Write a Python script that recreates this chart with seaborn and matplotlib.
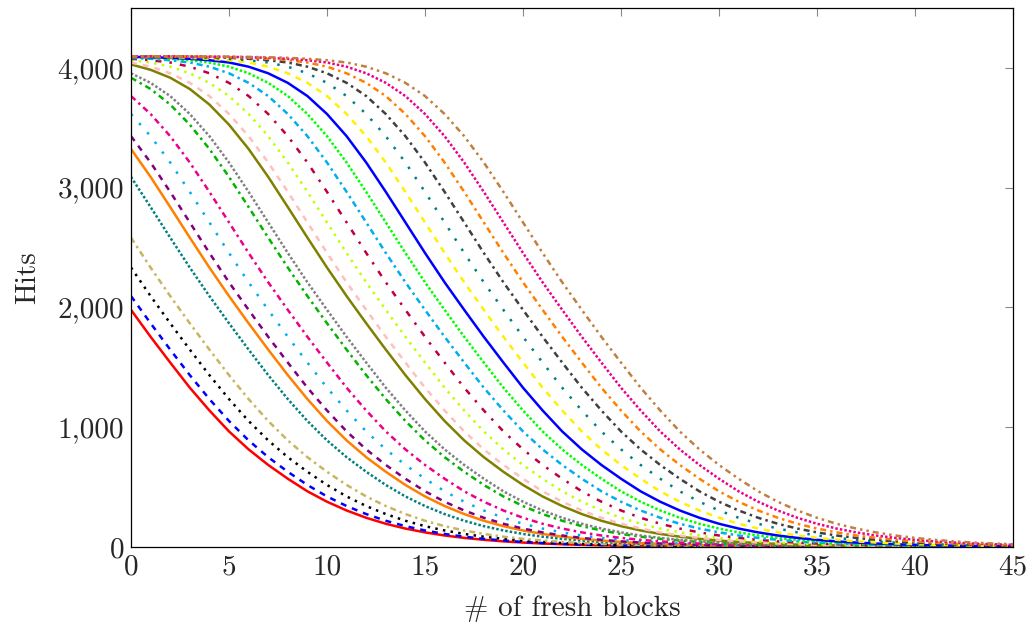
import matplotlib
matplotlib.use("Agg")
import matplotlib.pyplot as plt
import seaborn as sns
import pandas as pd
from matplotlib.ticker import FuncFormatter

# ---------------- data ----------------
fresh_blocks = list(range(0, 46))

hits_red = [1980,1755,1540,1330,1140,965,815,685,570,465,
            378,305,244,194,154,122,96,76,60,47,
            37,29,23,18,14,11,9,7,5,4,
            3,2,2,1,1,1,1,0,0,0,
            0,0,0,0,0,0]
hits_blue_dashed = [2095,1868,1648,1435,1235,1052,890,750,628,518,
                    422,342,275,219,174,138,109,86,68,54,
                    42,33,26,20,16,12,10,8,6,4,
                    3,2,2,1,1,1,1,0,0,0,
                    0,0,0,0,0,0]
hits_black = [2333,2095,1868,1648,1435,1235,1052,890,750,628,
              518,422,342,275,219,174,138,109,86,68,
              54,42,33,26,20,16,12,10,8,6,
              4,3,2,2,1,1,1,1,0,0,
              0,0,0,0,0,0]
hits_khaki = [2583,2333,2095,1868,1648,1435,1235,1052,890,750,
              628,518,422,342,275,219,174,138,109,86,
              68,54,42,33,26,20,16,12,10,8,
              6,4,3,2,2,1,1,1,1,0,
              0,0,0,0,0,0]
hits_teal_dense = [3090,2838,2583,2333,2095,1868,1648,1435,1235,1052,
                   890,750,628,518,422,342,275,219,174,138,
                   109,86,68,54,42,33,26,20,16,12,
                   10,8,6,4,3,2,2,1,1,1,
                   1,0,0,0,0,0]
hits_orange = [3323,3090,2838,2583,2333,2095,1868,1648,1435,1235,
               1052,890,750,628,518,422,342,275,219,174,
               138,109,86,68,54,42,33,26,20,16,
               12,10,8,6,4,3,2,2,1,1,
               1,1,0,0,0,0]
hits_violet = [3430,3210,2965,2710,2455,2210,1980,1755,1540,1330,
               1140,965,815,685,570,465,378,305,244,194,
               154,122,96,76,60,47,37,29,23,18,
               14,11,9,7,5,4,3,2,2,1,
               1,1,1,0,0,0]
hits_cyan_loose = [3615,3430,3210,2965,2710,2455,2210,1980,1755,1540,
                   1330,1140,965,815,685,570,465,378,305,244,
                   194,154,122,96,76,60,47,37,29,23,
                   18,14,11,9,7,5,4,3,2,2,
                   1,1,1,1,0,0]
hits_magenta_dd = [3765,3615,3430,3210,2965,2710,2455,2210,1980,1755,
                   1540,1330,1140,965,815,685,570,465,378,305,
                   244,194,154,122,96,76,60,47,37,29,
                   23,18,14,11,9,7,5,4,3,2,
                   2,1,1,1,1,0]
hits_green_dd = [3918,3824,3694,3526,3323,3090,2838,2583,2333,2095,
                 1868,1648,1435,1235,1052,890,750,628,518,422,
                 342,275,219,174,138,109,86,68,54,42,
                 33,26,20,16,12,10,8,6,4,3,
                 2,2,1,1,1,1]
hits_gray = [3955,3875,3765,3615,3430,3210,2965,2710,2455,2210,
             1980,1755,1540,1330,1140,965,815,685,570,465,
             378,305,244,194,154,122,96,76,60,47,
             37,29,23,18,14,11,9,7,5,4,
             3,2,2,1,1,1]
hits_olive = [4029,3984,3918,3824,3694,3526,3323,3090,2838,2583,
              2333,2095,1868,1648,1435,1235,1052,890,750,628,
              518,422,342,275,219,174,138,109,86,68,
              54,42,33,26,20,16,12,10,8,6,
              4,3,2,2,1,1]
hits_pink = [4045,4010,3955,3875,3765,3615,3430,3210,2965,2710,
             2455,2210,1980,1755,1540,1330,1140,965,815,685,
             570,465,378,305,244,194,154,122,96,76,
             60,47,37,29,23,18,14,11,9,7,
             5,4,3,2,2,1]
hits_lime = [4064,4045,4010,3955,3875,3765,3615,3430,3210,2965,
             2710,2455,2210,1980,1755,1540,1330,1140,965,815,
             685,570,465,378,305,244,194,154,122,96,
             76,60,47,37,29,23,18,14,11,9,
             7,5,4,3,2,2]
hits_purple = [4076,4064,4045,4010,3955,3875,3765,3615,3430,3210,
               2965,2710,2455,2210,1980,1755,1540,1330,1140,965,
               815,685,570,465,378,305,244,194,154,122,
               96,76,60,47,37,29,23,18,14,11,
               9,7,5,4,3,2]
hits_cyan_dd = [4084,4076,4064,4045,4010,3955,3875,3765,3615,3430,
                3210,2965,2710,2455,2210,1980,1755,1540,1330,1140,
                965,815,685,570,465,378,305,244,194,154,
                122,96,76,60,47,37,29,23,18,14,
                11,9,7,5,4,3]
hits_green_dense = [4089,4084,4076,4064,4045,4010,3955,3875,3765,3615,
                    3430,3210,2965,2710,2455,2210,1980,1755,1540,1330,
                    1140,965,815,685,570,465,378,305,244,194,
                    154,122,96,76,60,47,37,29,23,18,
                    14,11,9,7,5,4]
hits_blue = [4092,4089,4084,4076,4064,4045,4010,3955,3875,3765,
             3615,3430,3210,2965,2710,2455,2210,1980,1755,1540,
             1330,1140,965,815,685,570,465,378,305,244,
             194,154,122,96,76,60,47,37,29,23,
             18,14,11,9,7,5]
hits_yellow = [4094,4092,4089,4084,4076,4064,4045,4010,3955,3875,
               3765,3615,3430,3210,2965,2710,2455,2210,1980,1755,
               1540,1330,1140,965,815,685,570,465,378,305,
               244,194,154,122,96,76,60,47,37,29,
               23,18,14,11,9,7]
hits_teal_loose = [4095,4094,4092,4089,4084,4076,4064,4045,4010,3955,
                   3875,3765,3615,3430,3210,2965,2710,2455,2210,1980,
                   1755,1540,1330,1140,965,815,685,570,465,378,
                   305,244,194,154,122,96,76,60,47,37,
                   29,23,18,14,11,9]
hits_darkgray = [4096,4095,4094,4092,4089,4084,4076,4064,4045,4010,
                 3955,3875,3765,3615,3430,3210,2965,2710,2455,2210,
                 1980,1755,1540,1330,1140,965,815,685,570,465,
                 378,305,244,194,154,122,96,76,60,47,
                 37,29,23,18,14,11]
hits_orange_dd = [4096,4096,4095,4094,4092,4089,4084,4076,4064,4045,
                  4010,3955,3875,3765,3615,3430,3210,2965,2710,2455,
                  2210,1980,1755,1540,1330,1140,965,815,685,570,
                  465,378,305,244,194,154,122,96,76,60,
                  47,37,29,23,18,14]
hits_magenta_dense = [4096,4096,4096,4095,4094,4092,4089,4084,4076,4064,
                      4045,4010,3955,3875,3765,3615,3430,3210,2965,2710,
                      2455,2210,1980,1755,1540,1330,1140,965,815,685,
                      570,465,378,305,244,194,154,122,96,76,
                      60,47,37,29,23,18]
hits_brown = [4096,4096,4096,4096,4095,4094,4092,4089,4084,4076,
              4064,4045,4010,3955,3875,3765,3615,3430,3210,2965,
              2710,2455,2210,1980,1755,1540,1330,1140,965,815,
              685,570,465,378,305,244,194,154,122,96,
              76,60,47,37,29,23]

x_ticks = [0, 5, 10, 15, 20, 25, 30, 35, 40, 45]
y_ticks = [0, 1000, 2000, 3000, 4000]
x_label = "# of fresh blocks"
y_label = "Hits"

# ---------------- styles ----------------
LW = 1.8
SOLID = "-"
DASHED = (0, (4.3, 4.3))
DOTTED = (0, (LW, 3.8))
DENSE_DOT = (0, (LW, 1.5))
LOOSE_DOT = (0, (LW, 7.0))
DASHDOT = (0, (4.3, 2.9, LW, 2.9))
LOOSE_DASHDOT = (0, (4.3, 5.8, LW, 5.8))
DASHDOTDOT = (0, (4.3, 2.9, LW, 2.9, LW, 2.9))

series = [
    (hits_red, "#FF0000", SOLID),
    (hits_blue_dashed, "#0000FF", DASHED),
    (hits_black, "#000000", DOTTED),
    (hits_khaki, "#C8B560", DASHDOT),
    (hits_teal_dense, "#008080", DENSE_DOT),
    (hits_orange, "#FF8000", SOLID),
    (hits_violet, "#800080", DASHED),
    (hits_cyan_loose, "#00AEEF", LOOSE_DOT),
    (hits_magenta_dd, "#EC008C", DASHDOT),
    (hits_green_dd, "#00B400", DASHDOT),
    (hits_gray, "#808080", DENSE_DOT),
    (hits_olive, "#808000", SOLID),
    (hits_pink, "#FFBFBF", DASHED),
    (hits_lime, "#BFFF00", DOTTED),
    (hits_purple, "#BF0040", LOOSE_DASHDOT),
    (hits_cyan_dd, "#00AEEF", DASHDOT),
    (hits_green_dense, "#00FF00", DENSE_DOT),
    (hits_blue, "#0000FF", SOLID),
    (hits_yellow, "#FFF000", DASHED),
    (hits_teal_loose, "#008080", LOOSE_DOT),
    (hits_darkgray, "#404040", DASHDOT),
    (hits_orange_dd, "#FF8000", DASHDOT),
    (hits_magenta_dense, "#EC008C", DENSE_DOT),
    (hits_brown, "#BF8040", DASHDOTDOT),
]

# ---------------- figure ----------------
sns.set_style("white")
plt.rcParams["font.family"] = ["cmr10", "DejaVu Serif"]
plt.rcParams["axes.formatter.use_mathtext"] = True
plt.rcParams["lines.scale_dashes"] = False

fig, ax = plt.subplots(figsize=(10.33, 6.29), dpi=100)
fig.subplots_adjust(left=131 / 1033, right=1013 / 1033,
                    top=1 - 8 / 629, bottom=1 - 547 / 629)

for values, color, style in series:
    df = pd.DataFrame({"x": fresh_blocks, "y": values})
    sns.lineplot(data=df, x="x", y="y", ax=ax, color=color,
                 linestyle=style, linewidth=LW, estimator=None,
                 sort=False, legend=False)

ax.set_xlim(0, 45)
ax.set_ylim(0, 4500)
ax.set_xticks(x_ticks)
ax.set_yticks(y_ticks)
ax.yaxis.set_major_formatter(FuncFormatter(lambda v, _: f"{int(v):,}"))
ax.xaxis.set_major_formatter(FuncFormatter(lambda v, _: f"{int(v)}"))
ax.tick_params(axis="both", which="major", direction="in", top=True,
               right=True, length=6, width=0.8, color="#888888",
               labelsize=21, pad=5)
for sp in ax.spines.values():
    sp.set_color("black")
    sp.set_linewidth(0.9)

ax.set_xlabel(x_label, fontsize=21, labelpad=11)
ax.set_ylabel(y_label, fontsize=21, labelpad=12)

fig.savefig("out.png", dpi=100)
